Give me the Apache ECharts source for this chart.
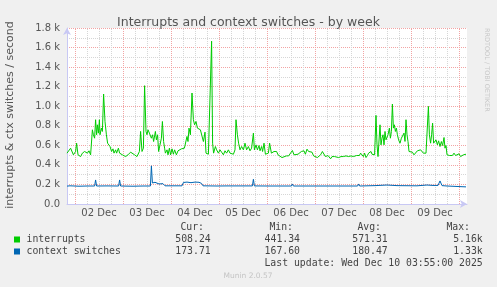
<!DOCTYPE html>
<html><head><meta charset="utf-8">
<script src="https://cdn.jsdelivr.net/npm/echarts@6/dist/echarts.min.js"></script>
<style>html,body{margin:0;padding:0;background:#f0f0f0}#c{width:497px;height:287px}</style>
</head><body><div id="c"></div>
<script>
// x = hours since 01 Dec 20:00 (graph start); graph ends 10 Dec ~04:00 (200 h)
const dayLabels = ['02 Dec','03 Dec','04 Dec','05 Dec','06 Dec','07 Dec','08 Dec','09 Dec'];
const yTickLabels = ['0.0','0.2 k','0.4 k','0.6 k','0.8 k','1.0 k','1.2 k','1.4 k','1.6 k','1.8 k'];
const firstMidnightHour = 4;   // 02 Dec 00:00
const firstNoonHour = 16;      // 02 Dec 12:00
const spanHours = 200;

const interrupts = [
[0,520],[1,537],[1.8,571],[3.2,503],[4.3,537],[4.8,622],[5.5,503],[6.8,485],[7.7,520],[8.8,537],[10.2,520],[11,544],[11.8,503],[12.7,759],[13.2,708],[13.8,673],[14.3,862],[14.8,708],[15.2,810],[15.7,725],[16.2,862],[16.5,708],[17.2,776],[17.7,742],[18.3,1125],[19,844],[19.7,708],[20.3,622],[21.5,588],[22.3,537],[23,564],[23.5,520],[24.3,554],[24.8,520],[25.7,571],[26.3,520],[27.7,503],[28.5,485],[29.3,485],[30.5,503],[31.8,530],
[32.5,537],[33.8,503],[35,485],[36.2,537],[36.8,742],[37.5,537],[38.2,571],[38.8,1210],[39.5,742],[40,708],[40.5,759],[41.2,725],[41.7,742],[42.2,673],[42.8,708],[43.3,639],[44.2,742],[44.7,656],[45.3,708],[45.8,537],[46.7,554],[47.2,673],[47.7,844],[48.3,639],[48.8,571],[49.2,520],[50,554],[50.5,503],[51.2,571],[51.8,503],[52.5,564],[53.2,509],[53.8,554],[54.7,503],[55.5,544],[56.3,537],[57.2,564],[58,544],[58.7,571],[59.5,564],
[60,691],[60.5,639],[61,776],[61.7,708],[62.5,1135],[63.2,862],[63.8,810],[64.5,844],[65.2,776],[65.8,793],[66.7,759],[67.3,742],[68.2,639],[69,735],[69.5,520],[70.7,509],[71.5,509],[72.3,1665],[72.8,622],[73.3,520],[74.2,588],[74.8,554],[75.7,520],[76.5,554],[77.3,530],[78.2,503],[79,544],[79.8,520],[80.7,554],[81.5,520],[82.3,537],[83.2,509],[84,554],[84.5,862],[85.2,708],[85.8,622],[86.5,554],[87.3,588],[88.2,554],[89,622],[89.8,554],[90.7,588],[91.5,544],[92.3,571],[93.2,725],[93.7,554],[94.5,605],[95.2,554],[96,598],[96.5,544],[97.3,588],[97.8,537],[98.5,622],[99.2,509],[99.8,503],
[100.7,520],[101.3,622],[102.2,520],[102.8,503],[103.5,537],[104.2,526],[104.8,537],[105.5,503],[106.5,485],[107.5,475],[108.5,492],[109.7,492],[110.8,492],[111.8,496],[112.7,547],[113.5,503],[114.5,496],[115.5,509],[116.5,503],[117.2,537],[117.8,520],[118.5,544],[119.2,509],[120,561],[120.8,537],[121.7,544],[122.5,530],[123.3,492],[124.2,475],[125.2,475],[126,485],[126.8,503],[127.7,537],[128.5,520],[129.2,485],[129.8,468],[130.5,496],[131.2,496],[131.8,462],[132.5,485],[133.2,496],[133.8,485],[134.7,475],[135.8,475],[137,485],[138.2,485],[139.5,492],[140.8,485],[142,492],[143.2,485],[144.2,503],[144.8,496],[145.5,509],[146.2,496],[146.8,520],[147.5,503],[148.2,485],[148.8,520],[149.5,475],[150.2,496],[150.8,520],[151.5,509],[152,537],[152.5,509],[153.2,520],[153.8,503],
[154.5,906],[155,605],[155.5,485],[156,503],[156.5,810],[157,605],[157.5,673],[158,708],[158.5,605],[159,742],[159.5,656],[160,673],[160.5,708],[161.2,776],[161.7,673],[162.2,742],[162.7,1022],[163.2,776],[163.7,810],[164.2,742],[164.7,776],[165.2,708],[165.8,656],[166.5,622],[167.2,673],[167.8,691],[168.5,725],[169,640],[169.5,862],[170,708],[170.5,639],[171,537],[171.8,520],[172.7,530],[173.5,503],[174.3,520],[175.2,544],[176,564],[176.8,554],[177.7,544],[178.2,520],[178.8,509],[179.5,520],[180.7,998],[181.2,708],[181.8,622],[182.3,708],[182.8,827],[183.3,622],[183.8,605],[184.5,656],[185.2,605],[185.8,646],[186.5,588],[187.2,639],[187.8,598],[188.5,680],[189,571],[189.5,598],[190,503],[190.7,520],[191.3,496],[192,509],[192.7,496],[193.5,520],[194.3,496],[195.2,503],[196,513],[196.8,485],[197.7,475],[198.2,503],[198.8,516],[199.5,509]
];

const contextSwitches = [
[0,183],[1.5,186],[2,196],[2.5,184],[6,182],[10,184],[13.8,184],[14.3,246],[14.8,184],[20,185],[25.8,184],[26.3,246],[26.8,184],[33,182],[38,184],[41.7,184],[42.2,390],[42.7,215],[44,222],[45,218],[46,205],[48,208],[49,186],[57.5,186],[58.2,220],[60,224],[62,218],[64,224],[66,222],[67.3,210],[68,186],[75,184],[80,185],[92.7,185],[93.2,253],[93.7,185],[100,184],[112.2,184],[112.7,205],[113.2,184],[126.5,184],[127,200],[127.5,184],[145.3,184],[145.8,205],[146.3,184],[154,188],[160,194],[165,188],[175,186],[180,194],[183,190],[185.5,190],[186.5,236],[187.5,188],[190,184],[199.5,175]
];

const seriesNames = ['interrupts','context switches'];
const seriesColors = ['#00cc00','#0066b3'];
const statHeaders = ['Cur:','Min:','Avg:','Max:'];
const statCur = ['508.24','173.71'];
const statMin = ['441.34','167.60'];
const statAvg = ['571.31','180.47'];
const statMax = ['5.16k','1.33k'];

const FONT = 'DejaVu Sans';
const MONO = 'DejaVu Sans Mono';
const MAJOR = '#f2a4a4';
const MINOR = '#d6d6d6';
const TXT = '#555';

const vLines = [];
for (let h = firstMidnightHour; h < spanHours; h += 6) {
  vLines.push({xAxis: h, lineStyle: {color: ((h - firstMidnightHour) % 24 === 0) ? MAJOR : MINOR, type: [1, 1], width: 1}});
}

const chart = echarts.init(document.getElementById('c'), null, {renderer: 'canvas'});

const graphics = [
  {type:'text', x:10, y:115, rotation: Math.PI/2, style:{text:'interrupts & ctx switches / second', fontFamily:FONT, fontSize:11, fill:TXT, align:'center', verticalAlign:'middle'}},
  {type:'text', x:487, y:28, rotation: -Math.PI/2, style:{text:'RRDTOOL / TOBI OETIKER', fontFamily:FONT, fontSize:6.5, fill:'#c8c8c8', align:'left', verticalAlign:'middle'}},
  {type:'text', x:248, y:276, style:{text:'Munin 2.0.57', fontFamily:FONT, fontSize:7.5, fill:'#c4c4c4', align:'center', verticalAlign:'middle'}},
  {type:'text', x:482.7, y:263.5, style:{text:'Last update: Wed Dec 10 03:55:00 2025', fontFamily:MONO, fontSize:9.8, fill:'#444', align:'right', verticalAlign:'middle'}}
];
const headerRight = [204, 293, 381, 470];
statHeaders.forEach((t, i) => graphics.push({type:'text', x:headerRight[i], y:227.5, style:{text:t, fontFamily:MONO, fontSize:9.8, fill:'#444', align:'right', verticalAlign:'middle'}}));
const valueRight = [210.7, 300, 387.7, 482.7];
const stats = [statCur, statMin, statAvg, statMax];
seriesNames.forEach((name, r) => {
  const y = 239.5 + r * 12;
  graphics.push({type:'rect', shape:{x:14, y:y-3, width:6, height:6}, style:{fill:seriesColors[r]}});
  graphics.push({type:'text', x:26.5, y:y, style:{text:name, fontFamily:MONO, fontSize:9.8, fill:'#444', align:'left', verticalAlign:'middle'}});
  stats.forEach((col, c) => graphics.push({type:'text', x:valueRight[c], y:y, style:{text:col[r], fontFamily:MONO, fontSize:9.8, fill:'#444', align:'right', verticalAlign:'middle'}}));
});

chart.setOption({
  backgroundColor: '#f0f0f0',
  animation: false,
  title: {text:'Interrupts and context switches - by week', left:'center', top:11,
    textStyle:{fontFamily:FONT, fontSize:12.5, fontWeight:'normal', color:TXT}},
  grid: {left:67, top:28, width:400, height:176, show:true, backgroundColor:'#ffffff', borderWidth:0},
  xAxis: {type:'value', min:0, max:spanHours, interval:8,
    axisLine:{show:true, onZero:false, lineStyle:{color:'#c8c8f4', width:1}, symbol:['none','arrow'], symbolSize:[6,7]},
    axisTick:{show:false}, splitLine:{show:false},
    axisLabel:{fontFamily:FONT, fontSize:10, color:TXT, margin:4,
      formatter: v => { const d = (v - firstNoonHour) / 24; return (Number.isInteger(d) && d >= 0 && d < dayLabels.length) ? dayLabels[d] : ''; }}},
  yAxis: {type:'value', min:0, max:1800, interval:100,
    axisLine:{show:true, lineStyle:{color:'#c8c8f4', width:1}, symbol:['none','arrow'], symbolSize:[6,7]},
    axisTick:{show:false},
    splitLine:{show:true, lineStyle:{color:[MAJOR, MINOR], type:[1, 1], width:1}},
    axisLabel:{fontFamily:FONT, fontSize:10, color:TXT, margin:7,
      formatter: v => (v % 200 === 0) ? yTickLabels[v / 200] : ''}},
  series: [
    {name:seriesNames[0], type:'line', data:interrupts, showSymbol:false, symbol:'none', z:3,
      lineStyle:{color:seriesColors[0], width:1}, itemStyle:{color:seriesColors[0]}},
    {name:seriesNames[1], type:'line', data:contextSwitches, showSymbol:false, symbol:'none', z:3,
      lineStyle:{color:seriesColors[1], width:1}, itemStyle:{color:seriesColors[1]},
      markLine:{silent:true, z:1, symbol:['none','none'], label:{show:false}, animation:false,
        emphasis:{disabled:true}, data:vLines}}
  ],
  graphic: graphics
});
</script></body></html>
